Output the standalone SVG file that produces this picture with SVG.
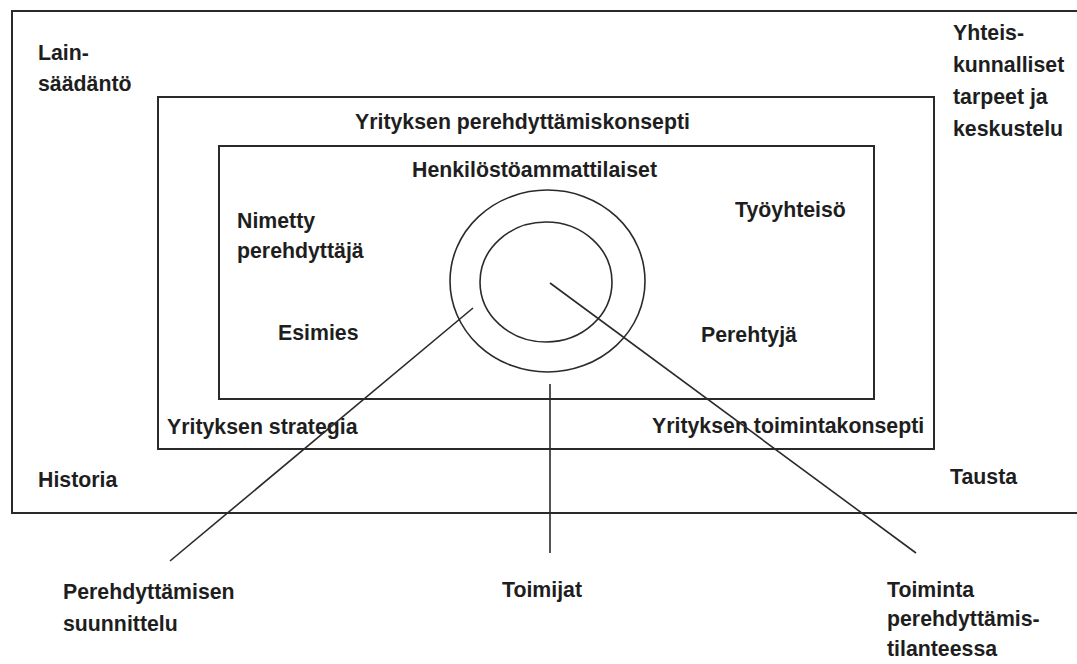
<svg xmlns="http://www.w3.org/2000/svg" width="1077" height="664" viewBox="0 0 1077 664">
<style>
.box{fill:none;stroke:#2a2a2a;stroke-width:2}
.ln{fill:none;stroke:#2a2a2a;stroke-width:1.6}
text{font-family:"Liberation Sans",Arial,sans-serif;font-weight:bold;font-size:21.3px;fill:#1e1e1e}
</style>
<rect width="1077" height="664" fill="#ffffff"/>
<g id="outer">
<rect class="box" x="12" y="11" width="1075" height="502"/>
<text x="38" y="60">Lain-</text>
<text x="38" y="91">säädäntö</text>
<text x="953" y="40">Yhteis-</text>
<text x="953" y="72">kunnalliset</text>
<text x="953" y="104">tarpeet ja</text>
<text x="953" y="136">keskustelu</text>
<text x="38" y="487">Historia</text>
<text x="950" y="484">Tausta</text>
</g>
<g id="middle">
<rect class="box" x="158" y="97" width="776" height="352"/>
<text x="355" y="129">Yrityksen perehdyttämiskonsepti</text>
<text x="167" y="434">Yrityksen strategia</text>
<text x="652" y="433">Yrityksen toimintakonsepti</text>
</g>
<g id="inner">
<rect class="box" x="219" y="146" width="655" height="253"/>
<text x="412" y="177">Henkilöstöammattilaiset</text>
<text x="237" y="228">Nimetty</text>
<text x="237" y="258">perehdyttäjä</text>
<text x="278" y="340">Esimies</text>
<text x="735" y="217">Työyhteisö</text>
<text x="701" y="342">Perehtyjä</text>
</g>
<g id="circles">
<ellipse class="ln" cx="547.5" cy="281" rx="97.5" ry="91"/>
<ellipse class="ln" cx="546" cy="282" rx="66" ry="60"/>
</g>
<g id="connectors">
<line class="ln" x1="473" y1="308" x2="170" y2="561"/>
<line class="ln" x1="550" y1="384" x2="550" y2="553"/>
<line class="ln" x1="550" y1="283" x2="916" y2="553"/>
</g>
<g id="labels">
<text x="63" y="599">Perehdyttämisen</text>
<text x="63" y="631">suunnittelu</text>
<text x="502" y="597">Toimijat</text>
<text x="887" y="597">Toiminta</text>
<text x="887" y="626">perehdyttämis-</text>
<text x="887" y="656">tilanteessa</text>
</g>
</svg>
